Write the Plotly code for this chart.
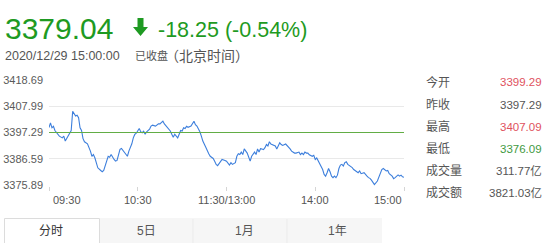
import plotly.graph_objects as go

# ---------------- data ----------------
minutes_since_open = [
    0, 1, 2, 3, 4, 6, 7, 9, 10, 11, 13, 15, 16, 17, 18, 19, 20, 21, 22, 23, 24, 26, 27, 28, 29, 30,
    31, 32, 33, 35, 36, 37, 38, 39, 40, 41, 42, 44, 45, 46, 47, 48, 49, 50, 51, 53, 54, 55, 56, 57, 58,
    59, 61, 62, 63, 64, 65, 66, 67, 68, 69, 70, 72, 73, 74, 75, 76, 77, 78, 80, 81, 82, 83, 84, 85,
    86, 87, 88, 89, 90, 91, 92, 93, 94, 95, 96, 98, 99, 100, 101, 102, 103, 104, 106, 107, 108, 109,
    111, 112, 113, 114, 115, 116, 117, 119,
    120, 122, 123, 124, 126, 127, 128, 129, 130, 131, 132, 134, 135, 136, 137, 139, 140, 141, 142,
    143, 144, 145, 146, 147, 148, 149, 150, 152, 153, 154, 155, 156, 157, 158, 160, 161, 162, 163,
    164, 165, 166, 167, 169, 170, 171, 172, 173, 174, 175, 176, 178, 179, 180, 181, 183, 184, 185,
    186, 187, 188, 189, 190, 191, 192, 193, 194, 195, 196, 197, 198, 199, 200, 201, 202, 204, 205,
    206, 207, 208, 209, 210, 211, 213, 214, 215, 216, 217, 218, 219, 220, 222, 223, 224, 225, 226,
    227, 228, 229, 230, 232, 233, 234, 235, 236, 237, 238, 239, 240,
]
index_values = [
    3399.3, 3401.2, 3399.2, 3399.8, 3398.1, 3396.8, 3395.8, 3395.1, 3395.8, 3393.8, 3395.8, 3398.1,
    3405.9, 3404.9, 3404.0, 3404.3, 3403.3, 3399.2, 3398.1, 3394.8, 3393.5, 3392.7, 3391.3, 3389.7,
    3387.6, 3388.3, 3387.0, 3385.0, 3382.9, 3381.8, 3381.3, 3381.8, 3383.6, 3386.3, 3387.6, 3387.2,
    3388.3, 3386.3, 3385.6, 3385.9, 3388.3, 3390.4, 3390.8, 3390.0, 3389.0, 3387.6, 3389.7, 3391.1,
    3392.7, 3395.1, 3396.5,
    3397.0, 3398.9, 3397.6, 3397.2, 3397.8, 3396.6, 3397.6, 3398.1, 3398.7, 3399.9, 3400.3, 3399.9,
    3400.3, 3400.8, 3400.8, 3401.2, 3401.9, 3400.8, 3399.4, 3398.5, 3397.9, 3396.6, 3395.4, 3396.6,
    3395.8, 3395.1, 3396.6, 3398.1, 3397.9, 3399.2, 3398.9, 3399.8, 3399.4, 3399.6, 3399.9, 3401.9,
    3400.5, 3399.9, 3398.9, 3397.6, 3395.8, 3393.8, 3391.3, 3389.7, 3388.6, 3387.6, 3386.7, 3385.6,
    3384.3, 3383.8, 3384.5, 3385.6, 3386.3, 3385.9,
    3385.6, 3384.0, 3385.0, 3384.3, 3385.0, 3387.6, 3388.6, 3388.3, 3389.3, 3388.3, 3390.6, 3388.9,
    3387.0, 3385.6, 3387.6, 3389.3, 3388.3, 3390.6, 3389.3, 3390.7, 3390.6, 3390.3, 3391.1, 3392.4,
    3391.8, 3393.5, 3392.6, 3392.0, 3391.8, 3390.6, 3391.8, 3393.1, 3392.4, 3392.0, 3392.6, 3392.0,
    3391.5, 3390.6, 3389.7, 3389.3, 3388.9, 3388.9, 3389.3, 3388.3, 3388.9, 3388.3, 3389.3, 3388.9,
    3388.9, 3388.2, 3387.6, 3388.0, 3386.3, 3386.9, 3384.3, 3383.6, 3382.2,
    3380.2, 3379.5, 3380.9, 3382.6, 3381.3, 3379.5, 3378.9, 3379.5, 3378.9, 3379.9, 3382.6, 3384.0,
    3384.3, 3383.6, 3385.0, 3385.4, 3384.3, 3383.6, 3383.0, 3382.2, 3381.8, 3381.3, 3380.9, 3381.6,
    3380.5, 3380.9, 3380.0, 3379.5, 3378.9, 3378.6, 3377.9, 3377.2, 3376.09, 3377.5, 3378.9, 3380.7,
    3382.2, 3382.6, 3382.2, 3381.6, 3381.8, 3380.5, 3379.5, 3378.5, 3378.9, 3379.5, 3380.0, 3379.5,
    3379.9, 3379.2, 3379.04,
]
prev_close = 3397.29
y_tick_values = [3375.89, 3386.59, 3397.29, 3407.99, 3418.69]
x_tick_minutes = [0, 60, 120, 180, 240]
x_tick_labels = ["09:30", "10:30", "11:30/13:00", "14:00", "15:00"]

last_price = "3379.04"
change_text = "-18.25 (-0.54%)"
timestamp_text = "2020/12/29 15:00:00"
status_text = "已收盘"
zone_text = "（北京时间）"

stat_labels = ["今开", "昨收", "最高", "最低", "成交量", "成交额"]
stat_values = ["3399.29", "3397.29", "3407.09", "3376.09", "311.77亿", "3821.03亿"]
stat_colors = ["#e0525e", "#555555", "#e0525e", "#3f9a3f", "#555555", "#555555"]

tab_labels = ["分时", "5日", "1月", "1年"]

# ---------------- layout geometry (pixels) ----------------
W, H = 550, 243
L, R = 49, 404
T, B = 79, 186
GRID_TOP_PX, GRID_BOT_PX = 80, 185
k = (y_tick_values[-1] - y_tick_values[0]) / (GRID_BOT_PX - GRID_TOP_PX)
y_range = [y_tick_values[0] - (B - GRID_BOT_PX) * k, y_tick_values[-1] + (GRID_TOP_PX - T) * k]


def px(x):
    return (x - L) / (R - L)


def py(y):
    return (B - y) / (B - T)


FONT = "Liberation Sans, Arial, Noto Sans CJK SC, sans-serif"
GREEN = "#1e9a22"

fig = go.Figure()
fig.add_trace(go.Scatter(
    x=minutes_since_open, y=index_values, mode="lines",
    line=dict(color="#3d7fdc", width=1.1), hoverinfo="skip", showlegend=False,
))
fig.add_hline(y=prev_close, line=dict(color="#62ad45", width=1.2), layer="above")

annotations = []
# x tick labels
anchors = ["left", "center", "center", "center", "right"]
for m, lab, a in zip(x_tick_minutes, x_tick_labels, anchors):
    annotations.append(dict(
        x=m, xref="x", y=py(199.5), yref="paper", text=lab, showarrow=False,
        xanchor=a, yanchor="middle", font=dict(size=11, color="#555555"),
        xshift=(2 if a == "left" else 0),
    ))

# header
annotations.append(dict(x=px(3), y=py(29), xref="paper", yref="paper", text=last_price,
                        showarrow=False, xanchor="left", yanchor="middle",
                        font=dict(size=30, color=GREEN)))
annotations.append(dict(x=px(156), y=py(30), xref="paper", yref="paper", text=change_text,
                        showarrow=False, xanchor="left", yanchor="middle",
                        font=dict(size=21.5, color=GREEN)))
annotations.append(dict(x=px(3), y=py(55.5), xref="paper", yref="paper", text=timestamp_text,
                        showarrow=False, xanchor="left", yanchor="middle",
                        font=dict(size=12.5, color="#555555")))
annotations.append(dict(x=px(132.5), y=py(55.5), xref="paper", yref="paper", text=status_text,
                        showarrow=False, xanchor="left", yanchor="middle",
                        font=dict(size=11, color="#555555")))
annotations.append(dict(x=px(163), y=py(55.5), xref="paper", yref="paper", text=zone_text,
                        showarrow=False, xanchor="left", yanchor="middle",
                        font=dict(size=14, color="#555555")))

# stats panel
row_y = [82, 104.5, 126.5, 148.5, 170.5, 192.5]
for lab, val, col, yy in zip(stat_labels, stat_values, stat_colors, row_y):
    annotations.append(dict(x=px(424), y=py(yy), xref="paper", yref="paper", text=lab,
                            showarrow=False, xanchor="left", yanchor="middle",
                            font=dict(size=12, color="#555555")))
    annotations.append(dict(x=px(544), y=py(yy), xref="paper", yref="paper", text=val,
                            showarrow=False, xanchor="right", yanchor="middle",
                            font=dict(size=11.5, color=col)))

# tabs
tab_centers = [51, 146.5, 244, 337]
for i, lab in enumerate(tab_labels):
    annotations.append(dict(x=px(tab_centers[i]), y=py(231), xref="paper", yref="paper", text=lab,
                            showarrow=False, xanchor="center", yanchor="middle",
                            font=dict(size=12, color="#333333" if i == 0 else "#555555")))

shapes = []
# top rule
shapes.append(dict(type="line", xref="paper", yref="paper", x0=px(82), x1=px(515),
                   y0=py(0.6), y1=py(0.6), line=dict(color="#cfcfcf", width=1.5)))
# down arrow
ax0, ax1, axm = 133, 148, 140.5
path = (f"M {px(137.5)} {py(18)} L {px(143.5)} {py(18)} L {px(143.5)} {py(27)} "
        f"L {px(ax1)} {py(27)} L {px(axm)} {py(36)} L {px(ax0)} {py(27)} L {px(137.5)} {py(27)} Z")
shapes.append(dict(type="path", xref="paper", yref="paper", path=path,
                   fillcolor=GREEN, line=dict(width=0)))
# tabs backgrounds
shapes.append(dict(type="rect", xref="paper", yref="paper", x0=px(100), x1=px(382),
                   y0=py(244), y1=py(218), fillcolor="#f6f6f6", line=dict(width=0), layer="below"))
for xe in [193, 287]:
    shapes.append(dict(type="line", xref="paper", yref="paper", x0=px(xe), x1=px(xe),
                       y0=py(244), y1=py(219), line=dict(color="#ebebeb", width=1)))
shapes.append(dict(type="path", xref="paper", yref="paper",
                   path=f"M {px(4.5)} {py(244)} L {px(4.5)} {py(218.5)} L {px(99.5)} {py(218.5)} L {px(99.5)} {py(244)}",
                   line=dict(color="#dcdcdc", width=1)))

fig.update_layout(
    width=W, height=H,
    margin=dict(l=L, r=W - R, t=T, b=H - B, pad=0, autoexpand=False),
    paper_bgcolor="white", plot_bgcolor="white",
    font=dict(family=FONT, color="#555555"),
    showlegend=False,
    annotations=annotations,
    shapes=shapes,
    xaxis=dict(range=[0, 240], showgrid=False, zeroline=False, showline=False,
               tickvals=x_tick_minutes, showticklabels=False, ticks="outside",
               ticklen=4, tickcolor="#d5d5d5", fixedrange=True, automargin=False),
    yaxis=dict(range=y_range, tickvals=y_tick_values,
               ticktext=[f"{v:.2f}" for v in y_tick_values],
               showgrid=True, gridcolor="#e9e9e9", gridwidth=1, zeroline=False,
               showline=False, ticks="", ticklabelstandoff=5, automargin=False,
               tickfont=dict(size=11, color="#5a5a5a"), fixedrange=True),
)

fig.write_html("out.html", config={"displayModeBar": False})
